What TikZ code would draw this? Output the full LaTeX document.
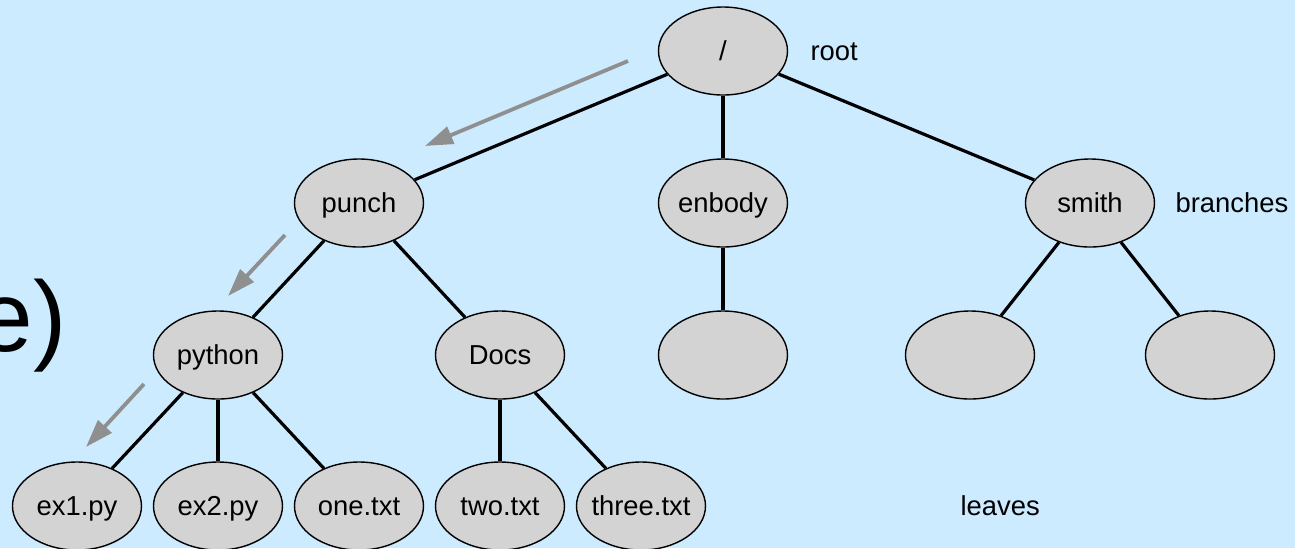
\documentclass[tikz,border=0pt]{standalone}
\usepackage{fontspec}
\setmainfont{Liberation Sans}
\usetikzlibrary{arrows.meta,positioning,shapes.geometric,calc}

\definecolor{bgblue}{HTML}{CCEBFF}
\definecolor{dirgray}{HTML}{D3D3D3}
\definecolor{hintgray}{HTML}{8F8F8F}

\begin{document}
\begin{tikzpicture}[
          font = \fontsize{13.7}{16}\selectfont,
          dir/.style  = {ellipse, draw, line width=0.7pt, fill=dirgray,
                         minimum width=64.5pt, minimum height=44pt,
                         text height=11pt, text depth=2pt,
                         inner xsep=-3pt, inner ysep=0pt, on grid},
          tag/.style  = {inner sep=0pt, text height=11pt, text depth=2pt},
          wire/.style = {line width=1.6pt},
          hint/.style = {draw=hintgray, line width=1.9pt,
                         -{Triangle[length=14pt, width=9pt]}, fill=hintgray}
        ]

        % --- page and background
        \path[use as bounding box, fill=bgblue] (-361.5pt,25.5pt) rectangle (286pt,-248.5pt);
        \node[inner sep=0pt, anchor=base east, font=\fontsize{50}{60}\selectfont] (title) at (-328pt,-150pt) {e)};

        % --- directories
        \node[dir]                                        (root)   at (0,0) {/};
        \node[dir, below left=76pt and 182pt of root]     (punch)  {punch};
        \node[dir, below=76pt of root]                    (enbody) {enbody};
        \node[dir, below right=76pt and 183.5pt of root]  (smith)  {smith};
        \node[dir, below left=76pt and 70.5pt of punch]   (python) {python};
        \node[dir, below right=76pt and 70.5pt of punch]  (docs)   {Docs};
        \node[dir, below=76pt of enbody]                  (enbodyA) {};
        \node[dir, below left=76pt and 60pt of smith]     (smithA) {};
        \node[dir, below right=76pt and 60pt of smith]    (smithB) {};

        % --- files
        \node[dir, below left=75.5pt and 70.5pt of python]  (ex1)   {ex1.py};
        \node[dir, below=75.5pt of python]                  (ex2)   {ex2.py};
        \node[dir, below right=75.5pt and 70.5pt of python] (one)   {one.txt};
        \node[dir, below=75.5pt of docs]                    (two)   {two.txt};
        \node[dir, below right=75.5pt and 70.5pt of docs]   (three) {three.txt};

        % --- side labels
        \node[tag, right=11pt of root]    (roottag)   {root};
        \node[tag, right=10pt of smith]   (branchtag) {branches};
        \node[tag, right=127pt of three]  (leavestag) {leaves};

        % --- tree edges
        \draw[wire] (root) -- (punch);
        \draw[wire] (root) -- (enbody);
        \draw[wire] (root) -- (smith);
        \draw[wire] (punch) -- (python);
        \draw[wire] (punch) -- (docs);
        \draw[wire] (enbody) -- (enbodyA);
        \draw[wire] (smith) -- (smithA);
        \draw[wire] (smith) -- (smithB);
        \draw[wire] (python) -- (ex1);
        \draw[wire] (python) -- (ex2);
        \draw[wire] (python) -- (one);
        \draw[wire] (docs) -- (two);
        \draw[wire] (docs) -- (three);

        % --- path hints
        \coordinate (h1a) at ($(root)+(-47.5pt,-5pt)$);
        \coordinate (h1b) at ($(punch)+(33pt,28.5pt)$);
        \coordinate (h2a) at ($(punch)+(-37pt,-16pt)$);
        \coordinate (h2b) at ($(python)+(5pt,29.5pt)$);
        \coordinate (h3a) at ($(python)+(-37pt,-14.5pt)$);
        \coordinate (h3b) at ($(ex1)+(4.5pt,29.5pt)$);
        \draw[hint] (h1a) -- (h1b);
        \draw[hint] (h2a) -- (h2b);
        \draw[hint] (h3a) -- (h3b);
    \end{tikzpicture}
\end{document}
